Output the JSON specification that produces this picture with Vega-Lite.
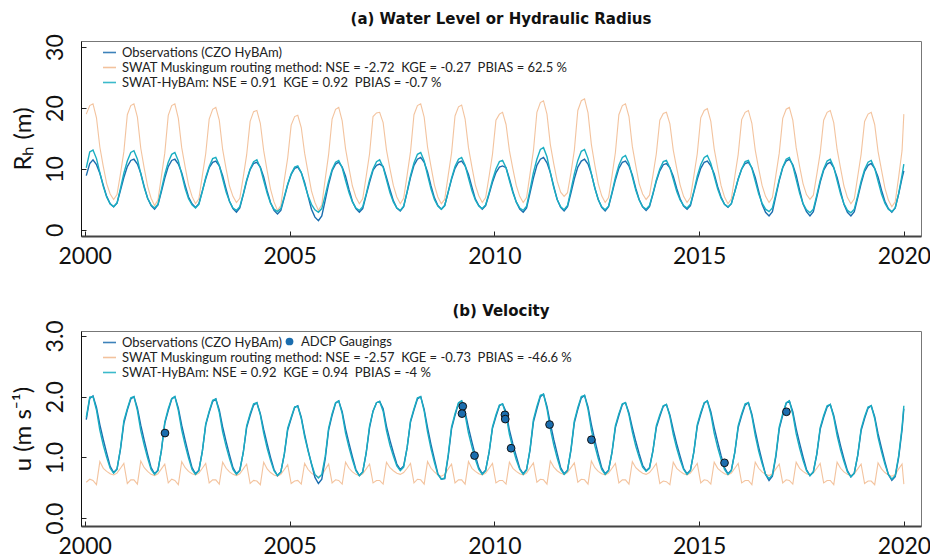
{
"$schema": "https://vega.github.io/schema/vega-lite/v6.json",
"background": "white",
"padding": {"left": 10, "top": 11, "right": 8, "bottom": 0},
"bounds": "flush",
"spacing": 95,
"config": {
  "font": "Lato",
  "view": {"stroke": "#777", "strokeWidth": 1},
  "axis": {"labelFont": "Lato", "labelFontSize": 23, "labelColor": "#111", "titleFont": "Lato", "titleFontSize": 24, "titleFontWeight": "normal", "titleColor": "#111", "grid": false, "tickColor": "#222", "tickSize": -5, "tickWidth": 1},
  "title": {"font": "DejaVu Sans", "fontSize": 15, "fontWeight": "bold", "color": "#111", "anchor": "middle", "frame": "group"},
  "legend": {"labelFont": "Lato", "labelFontSize": 13, "labelColor": "#222", "labelLimit": 800, "symbolStrokeWidth": 1.6, "symbolSize": 170, "rowPadding": 0, "labelOffset": 5, "padding": 0}
},
"resolve": {"scale": {"color": "independent", "y": "independent", "shape": "independent"}},
"datasets": {
"adcp": [
{"d":"2001-12-17","u":1.40},{"d":"2009-03-25","u":1.84},{"d":"2009-03-18","u":1.72},{"d":"2009-07-08","u":1.03},
{"d":"2010-04-05","u":1.70},{"d":"2010-04-08","u":1.63},{"d":"2010-05-30","u":1.15},{"d":"2011-05-08","u":1.54},
{"d":"2012-05-15","u":1.29},{"d":"2015-08-15","u":0.91},{"d":"2017-02-17","u":1.75}
],
"ts": [
{"d":"2000-01-15","o":8.9,"s":10.2,"m":19.0,"uo":1.62,"us":1.66,"um":0.59},
{"d":"2000-02-15","o":10.9,"s":12.8,"m":20.4,"uo":1.97,"us":1.99,"um":0.64},
{"d":"2000-03-15","o":11.5,"s":13.1,"m":20.7,"uo":2.01,"us":2.0,"um":0.62},
{"d":"2000-04-15","o":10.7,"s":11.7,"m":18.4,"uo":1.82,"us":1.78,"um":0.55},
{"d":"2000-05-15","o":9.3,"s":9.4,"m":13.6,"uo":1.54,"us":1.45,"um":0.93},
{"d":"2000-06-15","o":7.3,"s":7.1,"m":10.4,"uo":1.29,"us":1.2,"um":0.82},
{"d":"2000-07-15","o":5.5,"s":5.4,"m":7.6,"uo":1.07,"us":1.0,"um":0.77},
{"d":"2000-08-15","o":4.3,"s":4.3,"m":5.9,"uo":0.85,"us":0.82,"um":0.73},
{"d":"2000-09-15","o":3.8,"s":3.8,"m":5.0,"uo":0.75,"us":0.74,"um":0.71},
{"d":"2000-10-15","o":4.4,"s":4.4,"m":5.8,"uo":0.81,"us":0.80,"um":0.74},
{"d":"2000-11-15","o":6.5,"s":6.8,"m":9.2,"uo":1.13,"us":1.15,"um":0.82},
{"d":"2000-12-15","o":8.6,"s":9.3,"m":12.8,"uo":1.56,"us":1.6,"um":0.90},
{"d":"2001-01-15","o":10.4,"s":11.3,"m":18.9,"uo":1.78,"us":1.8,"um":0.57},
{"d":"2001-02-15","o":11.4,"s":12.7,"m":20.4,"uo":1.96,"us":1.98,"um":0.63},
{"d":"2001-03-15","o":11.6,"s":13.0,"m":20.7,"uo":2.0,"us":2.0,"um":0.63},
{"d":"2001-04-15","o":10.8,"s":11.6,"m":18.5,"uo":1.81,"us":1.77,"um":0.56},
{"d":"2001-05-15","o":9.3,"s":9.2,"m":13.4,"uo":1.53,"us":1.44,"um":0.94},
{"d":"2001-06-15","o":7.1,"s":6.9,"m":10.1,"uo":1.28,"us":1.2,"um":0.83},
{"d":"2001-07-15","o":5.2,"s":5.2,"m":7.2,"uo":1.05,"us":0.99,"um":0.77},
{"d":"2001-08-15","o":4.0,"s":4.1,"m":5.2,"uo":0.83,"us":0.80,"um":0.72},
{"d":"2001-09-15","o":3.4,"s":3.6,"m":4.0,"uo":0.73,"us":0.72,"um":0.70},
{"d":"2001-10-15","o":4.1,"s":4.2,"m":4.9,"uo":0.79,"us":0.78,"um":0.73},
{"d":"2001-11-15","o":6.3,"s":6.6,"m":8.8,"uo":1.11,"us":1.12,"um":0.81},
{"d":"2001-12-15","o":8.5,"s":9.1,"m":12.6,"uo":1.56,"us":1.58,"um":0.89},
{"d":"2002-01-15","o":10.4,"s":11.1,"m":18.8,"uo":1.77,"us":1.8,"um":0.58},
{"d":"2002-02-15","o":11.4,"s":12.4,"m":20.4,"uo":1.96,"us":1.97,"um":0.64},
{"d":"2002-03-15","o":11.6,"s":12.7,"m":20.7,"uo":2.0,"us":2.0,"um":0.62},
{"d":"2002-04-15","o":10.8,"s":11.3,"m":18.3,"uo":1.81,"us":1.77,"um":0.55},
{"d":"2002-05-15","o":9.4,"s":9.1,"m":13.5,"uo":1.53,"us":1.45,"um":0.93},
{"d":"2002-06-15","o":7.3,"s":6.8,"m":10.3,"uo":1.28,"us":1.2,"um":0.83},
{"d":"2002-07-15","o":5.4,"s":5.1,"m":7.4,"uo":1.05,"us":0.99,"um":0.77},
{"d":"2002-08-15","o":4.3,"s":4.1,"m":5.5,"uo":0.83,"us":0.8,"um":0.73},
{"d":"2002-09-15","o":3.7,"s":3.6,"m":4.3,"uo":0.73,"us":0.72,"um":0.71},
{"d":"2002-10-15","o":4.3,"s":4.2,"m":5.1,"uo":0.79,"us":0.78,"um":0.74},
{"d":"2002-11-15","o":6.4,"s":6.3,"m":8.9,"uo":1.10,"us":1.1,"um":0.82},
{"d":"2002-12-15","o":8.4,"s":8.6,"m":12.5,"uo":1.53,"us":1.55,"um":0.9},
{"d":"2003-01-15","o":10.2,"s":10.4,"m":18.2,"uo":1.74,"us":1.76,"um":0.58},
{"d":"2003-02-15","o":11.1,"s":11.7,"m":19.8,"uo":1.92,"us":1.94,"um":0.63},
{"d":"2003-03-15","o":11.3,"s":11.9,"m":20.1,"uo":1.96,"us":1.96,"um":0.63},
{"d":"2003-04-15","o":10.5,"s":10.6,"m":18.0,"uo":1.78,"us":1.74,"um":0.56},
{"d":"2003-05-15","o":8.9,"s":8.4,"m":13.2,"uo":1.50,"us":1.42,"um":0.92},
{"d":"2003-06-15","o":6.7,"s":6.2,"m":10.0,"uo":1.26,"us":1.18,"um":0.82},
{"d":"2003-07-15","o":4.7,"s":4.7,"m":7.2,"uo":1.04,"us":0.98,"um":0.76},
{"d":"2003-08-15","o":3.5,"s":3.6,"m":5.5,"uo":0.83,"us":0.8,"um":0.72},
{"d":"2003-09-15","o":2.9,"s":3.2,"m":4.5,"uo":0.73,"us":0.72,"um":0.70},
{"d":"2003-10-15","o":3.6,"s":3.8,"m":5.2,"uo":0.79,"us":0.78,"um":0.73},
{"d":"2003-11-15","o":5.8,"s":5.9,"m":8.7,"uo":1.08,"us":1.08,"um":0.81},
{"d":"2003-12-15","o":8.0,"s":8.2,"m":12.3,"uo":1.49,"us":1.52,"um":0.89},
{"d":"2004-01-15","o":9.9,"s":10.0,"m":17.8,"uo":1.69,"us":1.72,"um":0.57},
{"d":"2004-02-15","o":10.9,"s":11.2,"m":19.4,"uo":1.86,"us":1.88,"um":0.62},
{"d":"2004-03-15","o":11.1,"s":11.5,"m":19.6,"uo":1.9,"us":1.9,"um":0.61},
{"d":"2004-04-15","o":10.3,"s":10.2,"m":17.5,"uo":1.72,"us":1.7,"um":0.55},
{"d":"2004-05-15","o":8.7,"s":8.1,"m":13.0,"uo":1.46,"us":1.4,"um":0.92},
{"d":"2004-06-15","o":6.4,"s":6.0,"m":9.7,"uo":1.22,"us":1.15,"um":0.81},
{"d":"2004-07-15","o":4.5,"s":4.4,"m":6.7,"uo":1.0,"us":0.95,"um":0.75},
{"d":"2004-08-15","o":3.2,"s":3.4,"m":4.6,"uo":0.80,"us":0.78,"um":0.71},
{"d":"2004-09-15","o":2.6,"s":3.0,"m":3.2,"uo":0.70,"us":0.70,"um":0.69},
{"d":"2004-10-15","o":3.2,"s":3.5,"m":4.0,"uo":0.76,"us":0.76,"um":0.72},
{"d":"2004-11-15","o":5.3,"s":5.5,"m":8.2,"uo":1.05,"us":1.06,"um":0.80},
{"d":"2004-12-15","o":7.4,"s":7.5,"m":11.8,"uo":1.45,"us":1.48,"um":0.88},
{"d":"2005-01-15","o":9.1,"s":9.2,"m":17.2,"uo":1.64,"us":1.66,"um":0.57},
{"d":"2005-02-15","o":10.1,"s":10.3,"m":18.6,"uo":1.82,"us":1.83,"um":0.61},
{"d":"2005-03-15","o":10.3,"s":10.5,"m":18.8,"uo":1.85,"us":1.84,"um":0.62},
{"d":"2005-04-15","o":9.4,"s":9.4,"m":16.8,"uo":1.66,"us":1.64,"um":0.56},
{"d":"2005-05-15","o":7.8,"s":7.5,"m":12.6,"uo":1.38,"us":1.34,"um":0.90},
{"d":"2005-06-15","o":5.5,"s":5.6,"m":9.4,"uo":1.12,"us":1.1,"um":0.80},
{"d":"2005-07-15","o":3.4,"s":4.2,"m":6.4,"uo":0.89,"us":0.9,"um":0.74},
{"d":"2005-08-15","o":2.1,"s":3.3,"m":4.5,"uo":0.67,"us":0.72,"um":0.70},
{"d":"2005-09-15","o":1.5,"s":2.9,"m":3.2,"uo":0.57,"us":0.66,"um":0.68},
{"d":"2005-10-15","o":2.3,"s":3.5,"m":4.1,"uo":0.64,"us":0.72,"um":0.71},
{"d":"2005-11-15","o":4.9,"s":5.7,"m":8.4,"uo":0.98,"us":1.02,"um":0.80},
{"d":"2005-12-15","o":7.5,"s":8.0,"m":12.4,"uo":1.45,"us":1.48,"um":0.89},
{"d":"2006-01-15","o":9.7,"s":9.9,"m":18.2,"uo":1.69,"us":1.72,"um":0.58},
{"d":"2006-02-15","o":10.8,"s":11.1,"m":19.8,"uo":1.89,"us":1.9,"um":0.63},
{"d":"2006-03-15","o":11.1,"s":11.4,"m":20.1,"uo":1.93,"us":1.93,"um":0.62},
{"d":"2006-04-15","o":10.3,"s":10.2,"m":17.9,"uo":1.75,"us":1.72,"um":0.56},
{"d":"2006-05-15","o":8.8,"s":8.1,"m":13.3,"uo":1.47,"us":1.4,"um":0.92},
{"d":"2006-06-15","o":6.6,"s":6.1,"m":10.1,"uo":1.23,"us":1.16,"um":0.82},
{"d":"2006-07-15","o":4.7,"s":4.6,"m":7.2,"uo":1.01,"us":0.96,"um":0.76},
{"d":"2006-08-15","o":3.5,"s":3.6,"m":5.4,"uo":0.80,"us":0.78,"um":0.72},
{"d":"2006-09-15","o":2.9,"s":3.2,"m":4.3,"uo":0.70,"us":0.70,"um":0.70},
{"d":"2006-10-15","o":3.5,"s":3.8,"m":5.1,"uo":0.76,"us":0.76,"um":0.73},
{"d":"2006-11-15","o":5.7,"s":5.9,"m":8.8,"uo":1.07,"us":1.08,"um":0.81},
{"d":"2006-12-15","o":7.8,"s":8.2,"m":12.5,"uo":1.49,"us":1.52,"um":0.89},
{"d":"2007-01-15","o":9.8,"s":10.0,"m":18.6,"uo":1.76,"us":1.76,"um":0.58},
{"d":"2007-02-15","o":10.6,"s":11.2,"m":19.2,"uo":1.9,"us":1.9,"um":0.62},
{"d":"2007-03-15","o":10.8,"s":11.5,"m":19.3,"uo":1.92,"us":1.92,"um":0.62},
{"d":"2007-04-15","o":10.4,"s":10.3,"m":17.6,"uo":1.8,"us":1.76,"um":0.56},
{"d":"2007-05-15","o":8.6,"s":8.2,"m":13.1,"uo":1.51,"us":1.44,"um":0.92},
{"d":"2007-06-15","o":6.6,"s":6.1,"m":10.0,"uo":1.28,"us":1.2,"um":0.83},
{"d":"2007-07-15","o":4.8,"s":4.6,"m":7.3,"uo":1.08,"us":1.02,"um":0.78},
{"d":"2007-08-15","o":3.6,"s":3.6,"m":5.4,"uo":0.89,"us":0.86,"um":0.74},
{"d":"2007-09-15","o":3.1,"s":3.2,"m":4.3,"uo":0.80,"us":0.78,"um":0.72},
{"d":"2007-10-15","o":3.8,"s":3.9,"m":5.2,"uo":0.86,"us":0.84,"um":0.75},
{"d":"2007-11-15","o":6.2,"s":6.3,"m":9.0,"uo":1.16,"us":1.16,"um":0.82},
{"d":"2007-12-15","o":8.6,"s":8.9,"m":12.8,"uo":1.58,"us":1.6,"um":0.90},
{"d":"2008-01-15","o":10.6,"s":11.0,"m":18.9,"uo":1.78,"us":1.8,"um":0.58},
{"d":"2008-02-15","o":11.6,"s":12.4,"m":20.4,"uo":1.96,"us":1.98,"um":0.64},
{"d":"2008-03-15","o":11.9,"s":12.7,"m":20.7,"uo":2.0,"us":2.0,"um":0.63},
{"d":"2008-04-15","o":11.1,"s":11.3,"m":18.5,"uo":1.79,"us":1.76,"um":0.56},
{"d":"2008-05-15","o":9.5,"s":9.0,"m":13.6,"uo":1.49,"us":1.42,"um":0.93},
{"d":"2008-06-15","o":7.2,"s":6.7,"m":10.4,"uo":1.21,"us":1.14,"um":0.82},
{"d":"2008-07-15","o":5.3,"s":5.0,"m":7.4,"uo":0.97,"us":0.92,"um":0.76},
{"d":"2008-08-15","o":4.0,"s":3.9,"m":5.4,"uo":0.73,"us":0.72,"um":0.71},
{"d":"2008-09-15","o":3.4,"s":3.4,"m":4.3,"uo":0.64,"us":0.64,"um":0.69},
{"d":"2008-10-15","o":4.0,"s":4.0,"m":5.0,"uo":0.65,"us":0.66,"um":0.72},
{"d":"2008-11-15","o":6.2,"s":6.2,"m":8.9,"uo":1.01,"us":1.04,"um":0.81},
{"d":"2008-12-15","o":8.3,"s":8.5,"m":12.6,"uo":1.47,"us":1.5,"um":0.89},
{"d":"2009-01-15","o":10.1,"s":10.4,"m":18.7,"uo":1.69,"us":1.72,"um":0.58},
{"d":"2009-02-15","o":11.1,"s":11.6,"m":20.2,"uo":1.89,"us":1.9,"um":0.63},
{"d":"2009-03-15","o":11.3,"s":11.9,"m":20.5,"uo":1.93,"us":1.93,"um":0.63},
{"d":"2009-04-15","o":10.5,"s":10.6,"m":18.2,"uo":1.75,"us":1.7,"um":0.56},
{"d":"2009-05-15","o":9.1,"s":8.5,"m":13.5,"uo":1.49,"us":1.4,"um":0.93},
{"d":"2009-06-15","o":7.0,"s":6.4,"m":10.3,"uo":1.25,"us":1.17,"um":0.82},
{"d":"2009-07-15","o":5.1,"s":4.9,"m":7.4,"uo":1.03,"us":0.97,"um":0.77},
{"d":"2009-08-15","o":4.0,"s":3.9,"m":5.6,"uo":0.83,"us":0.8,"um":0.73},
{"d":"2009-09-15","o":3.4,"s":3.5,"m":4.5,"uo":0.73,"us":0.72,"um":0.71},
{"d":"2009-10-15","o":4.0,"s":4.1,"m":5.3,"uo":0.79,"us":0.78,"um":0.74},
{"d":"2009-11-15","o":5.9,"s":6.1,"m":8.8,"uo":1.08,"us":1.09,"um":0.82},
{"d":"2009-12-15","o":7.8,"s":8.2,"m":12.4,"uo":1.48,"us":1.5,"um":0.90},
{"d":"2010-01-15","o":9.4,"s":10.0,"m":18.0,"uo":1.67,"us":1.7,"um":0.58},
{"d":"2010-02-15","o":10.3,"s":11.2,"m":19.0,"uo":1.85,"us":1.86,"um":0.62},
{"d":"2010-03-15","o":10.5,"s":11.4,"m":19.3,"uo":1.88,"us":1.88,"um":0.62},
{"d":"2010-04-15","o":10.2,"s":10.2,"m":17.3,"uo":1.75,"us":1.7,"um":0.56},
{"d":"2010-05-15","o":8.4,"s":8.1,"m":13.0,"uo":1.45,"us":1.38,"um":0.92},
{"d":"2010-06-15","o":6.3,"s":6.1,"m":10.0,"uo":1.22,"us":1.15,"um":0.82},
{"d":"2010-07-15","o":4.6,"s":4.6,"m":7.3,"uo":1.02,"us":0.96,"um":0.77},
{"d":"2010-08-15","o":3.4,"s":3.6,"m":5.5,"uo":0.82,"us":0.8,"um":0.73},
{"d":"2010-09-15","o":2.9,"s":3.2,"m":4.5,"uo":0.73,"us":0.72,"um":0.71},
{"d":"2010-10-15","o":3.6,"s":3.9,"m":5.3,"uo":0.80,"us":0.79,"um":0.74},
{"d":"2010-11-15","o":6.1,"s":6.6,"m":9.2,"uo":1.12,"us":1.14,"um":0.83},
{"d":"2010-12-15","o":8.5,"s":9.4,"m":13.0,"uo":1.58,"us":1.62,"um":0.91},
{"d":"2011-01-15","o":10.6,"s":11.6,"m":19.3,"uo":1.80,"us":1.84,"um":0.59},
{"d":"2011-02-15","o":11.6,"s":13.2,"m":20.9,"uo":2.0,"us":2.02,"um":0.64},
{"d":"2011-03-15","o":11.9,"s":13.5,"m":21.2,"uo":2.04,"us":2.04,"um":0.63},
{"d":"2011-04-15","o":11.0,"s":12.0,"m":19.0,"uo":1.84,"us":1.8,"um":0.56},
{"d":"2011-05-15","o":9.4,"s":9.4,"m":14.0,"uo":1.56,"us":1.47,"um":0.94},
{"d":"2011-06-15","o":7.1,"s":6.9,"m":10.8,"uo":1.29,"us":1.2,"um":0.84},
{"d":"2011-07-15","o":5.0,"s":5.0,"m":8.0,"uo":1.06,"us":0.99,"um":0.78},
{"d":"2011-08-15","o":3.7,"s":3.8,"m":6.2,"uo":0.83,"us":0.8,"um":0.74},
{"d":"2011-09-15","o":3.1,"s":3.3,"m":5.5,"uo":0.73,"us":0.72,"um":0.72},
{"d":"2011-10-15","o":3.8,"s":4.0,"m":6.1,"uo":0.79,"us":0.78,"um":0.75},
{"d":"2011-11-15","o":6.1,"s":6.6,"m":9.4,"uo":1.12,"us":1.14,"um":0.83},
{"d":"2011-12-15","o":8.4,"s":9.2,"m":13.1,"uo":1.57,"us":1.6,"um":0.91},
{"d":"2012-01-15","o":10.3,"s":11.4,"m":19.6,"uo":1.79,"us":1.82,"um":0.59},
{"d":"2012-02-15","o":11.3,"s":12.9,"m":21.2,"uo":1.98,"us":2.0,"um":0.64},
{"d":"2012-03-15","o":11.6,"s":13.2,"m":21.5,"uo":2.02,"us":2.02,"um":0.63},
{"d":"2012-04-15","o":10.8,"s":11.7,"m":19.2,"uo":1.83,"us":1.79,"um":0.56},
{"d":"2012-05-15","o":9.2,"s":9.2,"m":14.0,"uo":1.54,"us":1.45,"um":0.94},
{"d":"2012-06-15","o":6.9,"s":6.8,"m":10.6,"uo":1.28,"us":1.19,"um":0.83},
{"d":"2012-07-15","o":5.0,"s":5.0,"m":7.6,"uo":1.05,"us":0.98,"um":0.77},
{"d":"2012-08-15","o":3.7,"s":3.8,"m":5.6,"uo":0.83,"us":0.8,"um":0.73},
{"d":"2012-09-15","o":3.1,"s":3.3,"m":4.5,"uo":0.73,"us":0.72,"um":0.71},
{"d":"2012-10-15","o":3.8,"s":3.9,"m":5.3,"uo":0.79,"us":0.78,"um":0.74},
{"d":"2012-11-15","o":6.0,"s":6.2,"m":8.9,"uo":1.08,"us":1.09,"um":0.82},
{"d":"2012-12-15","o":8.2,"s":8.6,"m":12.7,"uo":1.49,"us":1.52,"um":0.90},
{"d":"2013-01-15","o":10.1,"s":10.6,"m":18.9,"uo":1.69,"us":1.72,"um":0.58},
{"d":"2013-02-15","o":11.1,"s":11.9,"m":20.4,"uo":1.87,"us":1.88,"um":0.63},
{"d":"2013-03-15","o":11.3,"s":12.2,"m":20.7,"uo":1.9,"us":1.9,"um":0.63},
{"d":"2013-04-15","o":10.5,"s":10.9,"m":18.6,"uo":1.73,"us":1.7,"um":0.56},
{"d":"2013-05-15","o":9.0,"s":8.7,"m":13.7,"uo":1.49,"us":1.42,"um":0.93},
{"d":"2013-06-15","o":6.8,"s":6.5,"m":10.5,"uo":1.26,"us":1.18,"um":0.83},
{"d":"2013-07-15","o":5.0,"s":4.9,"m":7.6,"uo":1.06,"us":1.0,"um":0.78},
{"d":"2013-08-15","o":3.8,"s":3.8,"m":5.9,"uo":0.87,"us":0.84,"um":0.74},
{"d":"2013-09-15","o":3.2,"s":3.4,"m":5.0,"uo":0.78,"us":0.77,"um":0.72},
{"d":"2013-10-15","o":3.8,"s":4.0,"m":5.7,"uo":0.83,"us":0.82,"um":0.75},
{"d":"2013-11-15","o":5.9,"s":6.0,"m":9.0,"uo":1.11,"us":1.11,"um":0.82},
{"d":"2013-12-15","o":8.0,"s":8.2,"m":12.5,"uo":1.49,"us":1.52,"um":0.90},
{"d":"2014-01-15","o":9.7,"s":10.0,"m":18.0,"uo":1.67,"us":1.7,"um":0.57},
{"d":"2014-02-15","o":10.7,"s":11.2,"m":19.1,"uo":1.84,"us":1.85,"um":0.61},
{"d":"2014-03-15","o":10.9,"s":11.4,"m":19.3,"uo":1.87,"us":1.87,"um":0.60},
{"d":"2014-04-15","o":10.2,"s":10.2,"m":17.4,"uo":1.70,"us":1.67,"um":0.55},
{"d":"2014-05-15","o":8.8,"s":8.3,"m":13.1,"uo":1.45,"us":1.38,"um":0.92},
{"d":"2014-06-15","o":6.8,"s":6.3,"m":10.1,"uo":1.22,"us":1.15,"um":0.82},
{"d":"2014-07-15","o":5.1,"s":4.9,"m":7.4,"uo":1.02,"us":0.96,"um":0.77},
{"d":"2014-08-15","o":3.9,"s":4.0,"m":5.5,"uo":0.82,"us":0.8,"um":0.73},
{"d":"2014-09-15","o":3.4,"s":3.6,"m":4.5,"uo":0.73,"us":0.72,"um":0.71},
{"d":"2014-10-15","o":4.0,"s":4.2,"m":5.3,"uo":0.79,"us":0.78,"um":0.74},
{"d":"2014-11-15","o":6.2,"s":6.4,"m":8.9,"uo":1.09,"us":1.1,"um":0.82},
{"d":"2014-12-15","o":8.3,"s":8.8,"m":12.5,"uo":1.51,"us":1.54,"um":0.90},
{"d":"2015-01-15","o":10.1,"s":10.7,"m":18.4,"uo":1.71,"us":1.74,"um":0.58},
{"d":"2015-02-15","o":11.1,"s":11.9,"m":19.6,"uo":1.89,"us":1.9,"um":0.63},
{"d":"2015-03-15","o":11.3,"s":12.2,"m":19.9,"uo":1.93,"us":1.93,"um":0.62},
{"d":"2015-04-15","o":10.5,"s":10.9,"m":17.8,"uo":1.75,"us":1.71,"um":0.56},
{"d":"2015-05-15","o":9.2,"s":8.8,"m":13.3,"uo":1.49,"us":1.4,"um":0.92},
{"d":"2015-06-15","o":7.1,"s":6.7,"m":10.2,"uo":1.25,"us":1.16,"um":0.82},
{"d":"2015-07-15","o":5.4,"s":5.2,"m":7.3,"uo":1.03,"us":0.97,"um":0.77},
{"d":"2015-08-15","o":4.2,"s":4.2,"m":5.4,"uo":0.83,"us":0.8,"um":0.73},
{"d":"2015-09-15","o":3.7,"s":3.8,"m":4.3,"uo":0.73,"us":0.72,"um":0.71},
{"d":"2015-10-15","o":4.3,"s":4.3,"m":5.1,"uo":0.79,"us":0.78,"um":0.74},
{"d":"2015-11-15","o":6.3,"s":6.3,"m":8.8,"uo":1.08,"us":1.09,"um":0.82},
{"d":"2015-12-15","o":8.3,"s":8.4,"m":12.4,"uo":1.49,"us":1.52,"um":0.90},
{"d":"2016-01-15","o":10.0,"s":10.0,"m":18.1,"uo":1.69,"us":1.72,"um":0.58},
{"d":"2016-02-15","o":10.9,"s":11.2,"m":19.3,"uo":1.86,"us":1.88,"um":0.62},
{"d":"2016-03-15","o":11.1,"s":11.4,"m":19.6,"uo":1.9,"us":1.9,"um":0.62},
{"d":"2016-04-15","o":10.2,"s":10.1,"m":17.5,"uo":1.71,"us":1.68,"um":0.55},
{"d":"2016-05-15","o":8.6,"s":8.0,"m":13.1,"uo":1.43,"us":1.36,"um":0.92},
{"d":"2016-06-15","o":6.3,"s":5.9,"m":10.0,"uo":1.17,"us":1.1,"um":0.82},
{"d":"2016-07-15","o":4.2,"s":4.4,"m":7.3,"uo":0.94,"us":0.9,"um":0.76},
{"d":"2016-08-15","o":2.9,"s":3.4,"m":5.5,"uo":0.72,"us":0.72,"um":0.72},
{"d":"2016-09-15","o":2.3,"s":3.0,"m":4.5,"uo":0.62,"us":0.65,"um":0.70},
{"d":"2016-10-15","o":3.0,"s":3.6,"m":5.3,"uo":0.69,"us":0.71,"um":0.73},
{"d":"2016-11-15","o":5.6,"s":5.9,"m":9.0,"uo":1.01,"us":1.04,"um":0.81},
{"d":"2016-12-15","o":8.1,"s":8.3,"m":12.6,"uo":1.47,"us":1.5,"um":0.89},
{"d":"2017-01-15","o":10.2,"s":10.3,"m":18.3,"uo":1.69,"us":1.72,"um":0.58},
{"d":"2017-02-15","o":11.3,"s":11.6,"m":19.8,"uo":1.89,"us":1.9,"um":0.63},
{"d":"2017-03-15","o":11.6,"s":11.9,"m":20.1,"uo":1.93,"us":1.93,"um":0.62},
{"d":"2017-04-15","o":10.7,"s":10.5,"m":18.0,"uo":1.75,"us":1.71,"um":0.56},
{"d":"2017-05-15","o":9.0,"s":8.3,"m":13.5,"uo":1.47,"us":1.39,"um":0.92},
{"d":"2017-06-15","o":6.5,"s":6.0,"m":10.4,"uo":1.23,"us":1.15,"um":0.82},
{"d":"2017-07-15","o":4.3,"s":4.3,"m":7.6,"uo":1.01,"us":0.95,"um":0.77},
{"d":"2017-08-15","o":3.0,"s":3.3,"m":5.8,"uo":0.80,"us":0.78,"um":0.73},
{"d":"2017-09-15","o":2.3,"s":2.8,"m":5.0,"uo":0.70,"us":0.70,"um":0.71},
{"d":"2017-10-15","o":3.0,"s":3.4,"m":5.7,"uo":0.76,"us":0.76,"um":0.74},
{"d":"2017-11-15","o":5.4,"s":5.7,"m":9.1,"uo":1.05,"us":1.06,"um":0.82},
{"d":"2017-12-15","o":7.8,"s":8.1,"m":12.6,"uo":1.46,"us":1.49,"um":0.90},
{"d":"2018-01-15","o":9.8,"s":10.0,"m":18.0,"uo":1.66,"us":1.69,"um":0.58},
{"d":"2018-02-15","o":10.8,"s":11.3,"m":19.3,"uo":1.83,"us":1.85,"um":0.62},
{"d":"2018-03-15","o":11.1,"s":11.6,"m":19.6,"uo":1.87,"us":1.87,"um":0.62},
{"d":"2018-04-15","o":10.2,"s":10.3,"m":17.6,"uo":1.69,"us":1.66,"um":0.55},
{"d":"2018-05-15","o":8.6,"s":8.1,"m":13.2,"uo":1.43,"us":1.36,"um":0.92},
{"d":"2018-06-15","o":6.3,"s":5.9,"m":10.1,"uo":1.19,"us":1.12,"um":0.82},
{"d":"2018-07-15","o":4.2,"s":4.3,"m":7.2,"uo":0.98,"us":0.93,"um":0.76},
{"d":"2018-08-15","o":2.9,"s":3.2,"m":5.3,"uo":0.78,"us":0.76,"um":0.72},
{"d":"2018-09-15","o":2.3,"s":2.8,"m":4.3,"uo":0.68,"us":0.68,"um":0.70},
{"d":"2018-10-15","o":3.0,"s":3.4,"m":5.1,"uo":0.74,"us":0.74,"um":0.73},
{"d":"2018-11-15","o":5.3,"s":5.6,"m":8.8,"uo":1.03,"us":1.04,"um":0.81},
{"d":"2018-12-15","o":7.6,"s":8.0,"m":12.4,"uo":1.44,"us":1.47,"um":0.89},
{"d":"2019-01-15","o":9.6,"s":9.9,"m":17.8,"uo":1.64,"us":1.67,"um":0.57},
{"d":"2019-02-15","o":10.6,"s":11.1,"m":19.0,"uo":1.81,"us":1.83,"um":0.61},
{"d":"2019-03-15","o":10.9,"s":11.4,"m":19.3,"uo":1.85,"us":1.85,"um":0.61},
{"d":"2019-04-15","o":10.1,"s":10.1,"m":17.3,"uo":1.67,"us":1.64,"um":0.55},
{"d":"2019-05-15","o":8.7,"s":8.0,"m":12.9,"uo":1.39,"us":1.33,"um":0.91},
{"d":"2019-06-15","o":6.5,"s":5.9,"m":9.8,"uo":1.15,"us":1.09,"um":0.81},
{"d":"2019-07-15","o":4.7,"s":4.4,"m":6.9,"uo":0.93,"us":0.89,"um":0.75},
{"d":"2019-08-15","o":3.5,"s":3.4,"m":4.9,"uo":0.72,"us":0.72,"um":0.71},
{"d":"2019-09-15","o":2.9,"s":3.0,"m":3.8,"uo":0.62,"us":0.64,"um":0.69},
{"d":"2019-10-15","o":3.6,"s":3.6,"m":4.6,"uo":0.68,"us":0.70,"um":0.72},
{"d":"2019-11-15","o":5.9,"s":6.0,"m":8.7,"uo":1.0,"us":1.03,"um":0.81},
{"d":"2019-12-15","o":8.5,"s":9.0,"m":13.0,"uo":1.45,"us":1.5,"um":0.89},
{"d":"2019-12-31","o":9.7,"s":10.8,"m":19.0,"uo":1.8,"us":1.85,"um":0.56}
]
},
"vconcat": [
{
  "width": 840, "height": 195,
  "title": {"text": "(a) Water Level or Hydraulic Radius", "offset": 7},
  "data": {"name": "ts"},
  "encoding": {
    "x": {"field": "d", "type": "temporal",
      "scale": {"type": "utc", "domain": [{"year": 1999, "month": 11, "date": 29, "utc": true}, {"year": 2020, "month": 6, "date": 1, "utc": true}]},
      "axis": {"title": null, "format": "%Y", "values": [{"year": 2000, "month": 1, "date": 1, "utc": true}, {"year": 2005, "month": 1, "date": 1, "utc": true}, {"year": 2010, "month": 1, "date": 1, "utc": true}, {"year": 2015, "month": 1, "date": 1, "utc": true}, {"year": 2020, "month": 1, "date": 1, "utc": true}], "labelPadding": 14, "domainColor": "#444", "domainWidth": 2, "labelFlush": false}}
  },
  "layer": [
    {"mark": {"type": "line", "strokeWidth": 1.1, "opacity": 0.85},
     "encoding": {
       "y": {"field": "m", "type": "quantitative", "scale": {"domain": [-1, 31], "nice": false, "zero": false},
         "axis": {"title": "Rₕ (m)", "values": [0, 5, 10, 15, 20, 25, 30], "labelExpr": "datum.value % 10 == 0 ? datum.label : ''", "labelAngle": -90, "labelAlign": "center", "labelBaseline": "alphabetic", "labelPadding": 24, "titlePadding": 9, "domainColor": "#111", "domainWidth": 1}},
       "color": {"datum": "SWAT Muskingum routing method: NSE = -2.72\u00a0\u00a0KGE = -0.27\u00a0\u00a0PBIAS = 62.5 %",
         "scale": {"domain": ["Observations (CZO HyBAm)", "SWAT Muskingum routing method: NSE = -2.72\u00a0\u00a0KGE = -0.27\u00a0\u00a0PBIAS = 62.5 %", "SWAT-HyBAm: NSE = 0.91\u00a0\u00a0KGE = 0.92\u00a0\u00a0PBIAS = -0.7 %"], "range": ["#1b6dae", "#f1b88d", "#1aaec2"]},
         "legend": {"title": null, "orient": "none", "legendX": 21, "legendY": 4}}
     }},
    {"mark": {"type": "line", "strokeWidth": 1.4},
     "encoding": {"y": {"field": "o", "type": "quantitative"}, "color": {"datum": "Observations (CZO HyBAm)"}}},
    {"mark": {"type": "line", "strokeWidth": 1.4},
     "encoding": {"y": {"field": "s", "type": "quantitative"}, "color": {"datum": "SWAT-HyBAm: NSE = 0.91\u00a0\u00a0KGE = 0.92\u00a0\u00a0PBIAS = -0.7 %"}}}
  ]
},
{
  "width": 840, "height": 195,
  "title": {"text": "(b) Velocity", "offset": 1},
  "encoding": {
    "x": {"field": "d", "type": "temporal",
      "scale": {"type": "utc", "domain": [{"year": 1999, "month": 11, "date": 29, "utc": true}, {"year": 2020, "month": 6, "date": 1, "utc": true}]},
      "axis": {"title": null, "format": "%Y", "values": [{"year": 2000, "month": 1, "date": 1, "utc": true}, {"year": 2005, "month": 1, "date": 1, "utc": true}, {"year": 2010, "month": 1, "date": 1, "utc": true}, {"year": 2015, "month": 1, "date": 1, "utc": true}, {"year": 2020, "month": 1, "date": 1, "utc": true}], "labelPadding": 14, "domainColor": "#444", "domainWidth": 2, "labelFlush": false}}
  },
  "layer": [
    {"data": {"name": "ts"}, "mark": {"type": "line", "strokeWidth": 1.1, "opacity": 0.85},
     "encoding": {
       "y": {"field": "um", "type": "quantitative", "scale": {"domain": [-0.13, 3.08], "nice": false, "zero": false},
         "axis": {"title": "u (m s⁻¹)", "values": [0, 0.5, 1, 1.5, 2, 2.5, 3], "labelExpr": "datum.value % 1 == 0 ? format(datum.value, '.1f') : ''", "labelAngle": -90, "labelAlign": "center", "labelBaseline": "alphabetic", "labelPadding": 24, "titlePadding": 9, "domainColor": "#111", "domainWidth": 1}},
       "color": {"datum": "SWAT Muskingum routing method: NSE = -2.57\u00a0\u00a0KGE = -0.73\u00a0\u00a0PBIAS = -46.6 %",
         "scale": {"domain": ["Observations (CZO HyBAm)", "SWAT Muskingum routing method: NSE = -2.57\u00a0\u00a0KGE = -0.73\u00a0\u00a0PBIAS = -46.6 %", "SWAT-HyBAm: NSE = 0.92\u00a0\u00a0KGE = 0.94\u00a0\u00a0PBIAS = -4 %"], "range": ["#1b6dae", "#f1b88d", "#1aaec2"]},
         "legend": {"title": null, "orient": "none", "legendX": 21, "legendY": 4}}
     }},
    {"data": {"name": "ts"}, "mark": {"type": "line", "strokeWidth": 1.4},
     "encoding": {"y": {"field": "uo", "type": "quantitative"}, "color": {"datum": "Observations (CZO HyBAm)"}}},
    {"data": {"name": "ts"}, "mark": {"type": "line", "strokeWidth": 1.4},
     "encoding": {"y": {"field": "us", "type": "quantitative"}, "color": {"datum": "SWAT-HyBAm: NSE = 0.92\u00a0\u00a0KGE = 0.94\u00a0\u00a0PBIAS = -4 %"}}},
    {"data": {"name": "adcp"}, "mark": {"type": "point", "filled": true, "fill": "#1b6dae", "stroke": "#111", "strokeWidth": 1, "size": 60, "opacity": 1},
     "encoding": {"y": {"field": "u", "type": "quantitative"},
       "shape": {"datum": "ADCP Gaugings", "scale": {"range": ["circle"]}, "legend": {"title": null, "orient": "none", "legendX": 202, "legendY": 4, "symbolSize": 60, "symbolFillColor": "#1b6dae", "symbolStrokeColor": "#111"}}}}
  ]
}
]
}
